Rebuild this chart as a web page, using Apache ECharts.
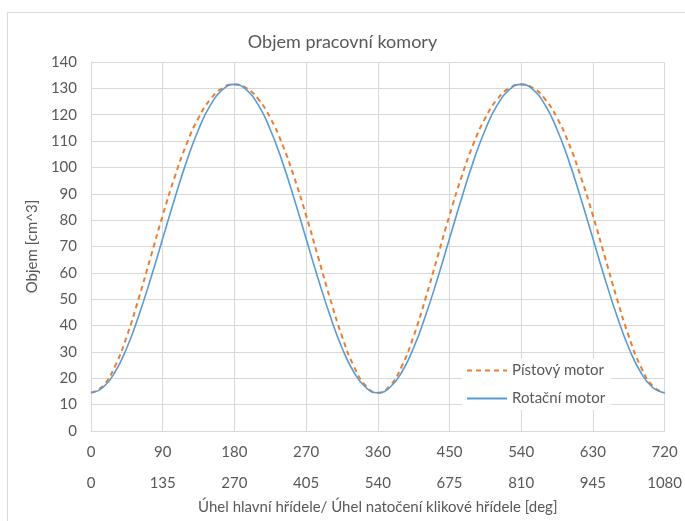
<!DOCTYPE html>
<html>
<head>
<meta charset="utf-8">
<script src="https://cdn.jsdelivr.net/npm/echarts@6/dist/echarts.min.js"></script>
<style>
html,body{margin:0;padding:0;background:#fff;}
#c{width:685px;height:521px;}
</style>
</head>
<body>
<div id="c"></div>
<script>
// Angle of main shaft [deg], step 15
const angles = [0,15,30,45,60,75,90,105,120,135,150,165,180,195,210,225,240,255,270,285,300,315,330,345,360,
  375,390,405,420,435,450,465,480,495,510,525,540,555,570,585,600,615,630,645,660,675,690,705,720];
// Piston engine chamber volume [cm^3]
const pistonVol = [14.5,17.1,24.5,36.0,50.4,66.1,81.8,96.3,108.9,118.8,125.9,130.1,131.5,130.1,125.9,118.8,108.9,96.3,81.8,66.1,50.4,36.0,24.5,17.1,14.5,
  17.1,24.5,36.0,50.4,66.1,81.8,96.3,108.9,118.8,125.9,130.1,131.5,130.1,125.9,118.8,108.9,96.3,81.8,66.1,50.4,36.0,24.5,17.1,14.5];
// Rotary engine chamber volume [cm^3]
const rotaryVol = [14.5,16.5,22.3,31.6,43.8,57.9,73.0,88.1,102.3,114.4,123.7,129.5,131.5,129.5,123.7,114.4,102.3,88.1,73.0,57.9,43.8,31.6,22.3,16.5,14.5,
  16.5,22.3,31.6,43.8,57.9,73.0,88.1,102.3,114.4,123.7,129.5,131.5,129.5,123.7,114.4,102.3,88.1,73.0,57.9,43.8,31.6,22.3,16.5,14.5];
const seriesNames = ['Pístový motor','Rotační motor'];
const titleText = 'Objem pracovní komory';
const yName = 'Objem [cm^3]';
const xName = 'Úhel hlavní hřídele/ Úhel natočení klikové hřídele [deg]';

const FONT = 'Lato, "Open Sans", sans-serif';
const TXT = '#595959';
const chart = echarts.init(document.getElementById('c'), null, {renderer:'canvas'});
chart.setOption({
  animation:false,
  backgroundColor:'#fff',
  textStyle:{fontFamily:FONT},
  graphic:[{type:'rect',shape:{x:7.5,y:12.5,width:690,height:520},style:{fill:'none',stroke:'#d9d9d9',lineWidth:1},silent:true}],
  title:{text:titleText,left:'center',top:28,textStyle:{fontFamily:FONT,fontSize:18,fontWeight:'normal',color:TXT}},
  grid:{left:91,right:16,top:62,bottom:90,containLabel:false},
  legend:{
    data:seriesNames,orient:'vertical',left:462,top:359,itemGap:13,itemWidth:40,itemHeight:16,
    backgroundColor:'#fff',padding:[4,6,4,4],
    itemStyle:{opacity:0},
    lineStyle:{width:2},
    textStyle:{fontFamily:FONT,fontSize:15,color:TXT}
  },
  xAxis:[{
    type:'value',min:0,max:720,interval:90,position:'bottom',
    axisLine:{show:true,lineStyle:{color:'#d9d9d9',width:1}},
    axisTick:{show:false},
    axisLabel:{color:TXT,fontSize:15,fontFamily:FONT,margin:14,formatter:v=>String(v)},
    splitLine:{show:true,lineStyle:{color:'#d9d9d9',width:1}}
  },{
    type:'value',min:0,max:1080,interval:135,position:'bottom',offset:31,
    axisLine:{show:false},axisTick:{show:false},splitLine:{show:false},
    axisLabel:{color:TXT,fontSize:15,fontFamily:FONT,margin:14,formatter:v=>String(v)},
    name:xName,nameLocation:'middle',nameGap:38,
    nameTextStyle:{color:TXT,fontSize:15,fontFamily:FONT}
  }],
  yAxis:{
    type:'value',min:0,max:140,interval:10,
    axisLine:{show:true,lineStyle:{color:'#d9d9d9'}},axisTick:{show:false},
    axisLabel:{color:TXT,fontSize:15,fontFamily:FONT,margin:14},
    splitLine:{show:true,lineStyle:{color:'#d9d9d9',width:1}},
    name:yName,nameLocation:'middle',nameGap:48,nameRotate:90,
    nameTextStyle:{color:TXT,fontSize:15,fontFamily:FONT}
  },
  series:[{
    name:seriesNames[0],type:'line',smooth:true,symbol:'none',xAxisIndex:0,
    data:angles.map((a,i)=>[a,pistonVol[i]]),
    lineStyle:{color:'#ED7D31',width:2,type:[5,4]},itemStyle:{color:'#ED7D31'}
  },{
    name:seriesNames[1],type:'line',smooth:true,symbol:'none',xAxisIndex:0,
    data:angles.map((a,i)=>[a,rotaryVol[i]]),
    lineStyle:{color:'#5B9BD5',width:1.6},itemStyle:{color:'#5B9BD5'}
  }]
});
</script>
</body>
</html>
